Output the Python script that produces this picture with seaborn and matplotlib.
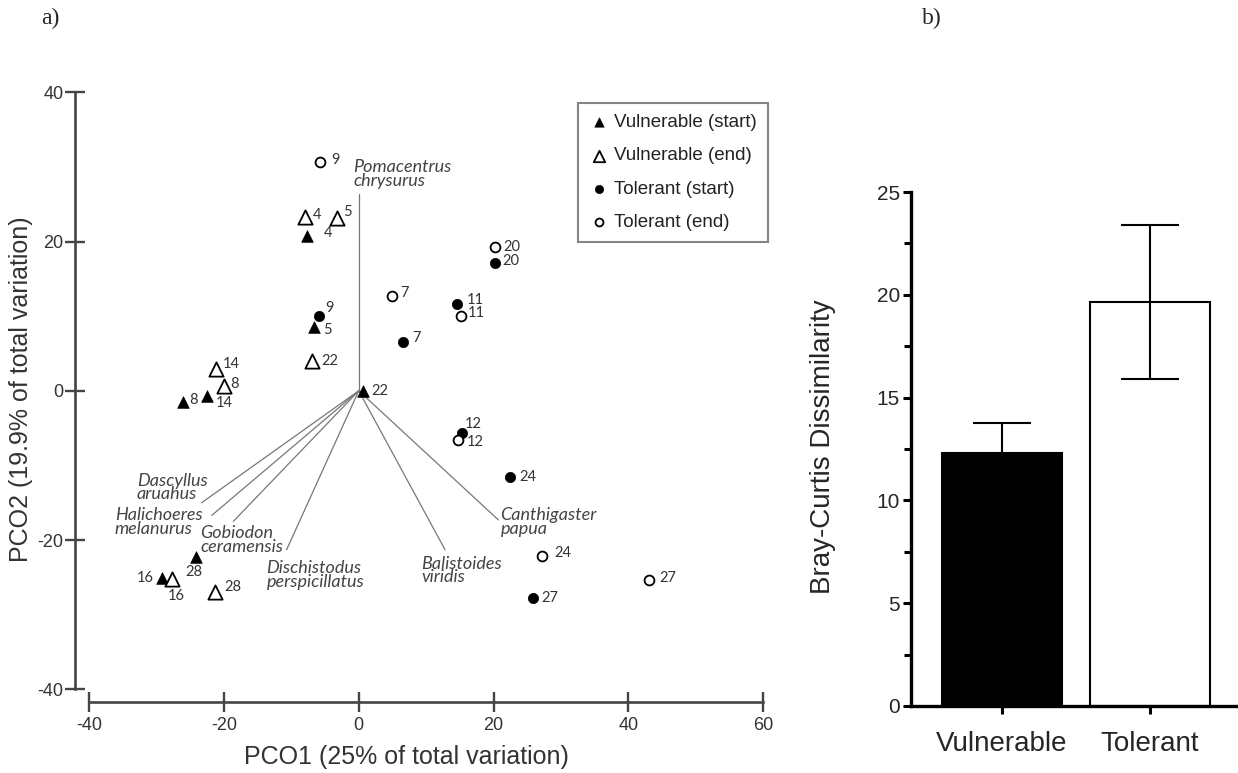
import numpy as np
import pandas as pd
import matplotlib
matplotlib.use("Agg")
import matplotlib.pyplot as plt
from matplotlib.ticker import AutoMinorLocator
import seaborn as sns

# -----------------------------
# a) PCO scores per site (start / end)
# -----------------------------
vul_ids = [4, 5, 8, 14, 22, 28, 16]
vul_start_x = [-7.6, -6.6, -26.0, -22.5, 0.6, -24.2, -29.2]
vul_start_y = [20.8, 8.6, -1.5, -0.7, 0.0, -22.3, -25.1]
vul_end_x = [-8.0, -3.2, -20.0, -21.1, -7.0, -21.3, -27.7]
vul_end_y = [23.3, 23.2, 0.7, 2.9, 4.0, -27.0, -25.2]

tol_ids = [9, 7, 20, 11, 12, 24, 27]
tol_start_x = [-5.9, 6.6, 20.2, 14.6, 15.3, 22.5, 25.9]
tol_start_y = [10.0, 6.6, 17.1, 11.6, -5.7, -11.6, -27.8]
tol_end_x = [-5.7, 4.9, 20.2, 15.2, 14.7, 27.2, 43.1]
tol_end_y = [30.7, 12.7, 19.3, 10.0, -6.6, -22.1, -25.4]

# species vectors
species = ["Pomacentrus\nchrysurus", "Dascyllus\naruahus", "Halichoeres\nmelanurus",
           "Gobiodon\nceramensis", "Dischistodus\nperspicillatus", "Balistoides\nviridis",
           "Canthigaster\npapua"]
vec_x = [0.0, -23.3, -21.8, -18.6, -10.7, 12.8, 20.7]
vec_y = [26.4, -15.0, -16.7, -17.5, -21.3, -21.3, -17.3]

# -----------------------------
# b) Bray-Curtis dissimilarity
# -----------------------------
groups = ["Vulnerable", "Tolerant"]
bc_mean = [12.3, 19.65]
bc_sem = [1.45, 3.75]

# layout bits: number label offsets (pixels) and species label anchors (left/top)
lab_off = {
    "Vulnerable (start)": [(21, 3), (13, -3), (10, 2), (17, -7), (17, 0), (-2, -15), (-17, 0)],
    "Vulnerable (end)": [(12, 2), (10, 6), (11, 2), (15, 5), (18, 0), (18, 5), (4, -17)],
    "Tolerant (start)": [(10, 8), (13, 4), (16, 2), (18, 4), (11, 9), (17, 0), (16, 0)],
    "Tolerant (end)": [(15, 2), (13, 3), (17, 0), (15, 3), (17, -2), (21, 3), (18, 2)],
}
spec_anchor = [(-0.8, 31.0), (-32.9, -11.0), (-36.2, -15.6), (-23.5, -18.0),
               (-13.7, -22.7), (9.3, -22.1), (21.0, -15.6)]

styles = {
    "Vulnerable (start)": dict(marker="^", s=70, color="black", edgecolor="black", linewidth=0.5),
    "Vulnerable (end)": dict(marker="^", s=105, facecolor="white", edgecolor="black", linewidth=1.3),
    "Tolerant (start)": dict(marker="o", s=55, color="black", edgecolor="black", linewidth=0.5),
    "Tolerant (end)": dict(marker="o", s=50, facecolor="white", edgecolor="black", linewidth=1.3),
}

rows = []
for name, ids, xs, ys in [("Vulnerable (start)", vul_ids, vul_start_x, vul_start_y),
                          ("Vulnerable (end)", vul_ids, vul_end_x, vul_end_y),
                          ("Tolerant (start)", tol_ids, tol_start_x, tol_start_y),
                          ("Tolerant (end)", tol_ids, tol_end_x, tol_end_y)]:
    for i, x, y in zip(ids, xs, ys):
        rows.append((name, i, x, y))
pco = pd.DataFrame(rows, columns=["group", "sample", "PCO1", "PCO2"])

sns.set_theme(style="ticks")
plt.rcParams["font.family"] = ["Liberation Sans", "DejaVu Sans"]
plt.rcParams["axes.unicode_minus"] = False

fig = plt.figure(figsize=(12.38, 7.73), dpi=100)
fig.patch.set_facecolor("white")
ax = fig.add_axes([0.0719, 0.1083, 0.5447, 0.7723])
axb = fig.add_axes([0.7359, 0.0867, 0.2641, 0.6649])

grey = "#444444"

# vectors
for name, vx, vy, (tx, ty) in zip(species, vec_x, vec_y, spec_anchor):
    ax.plot([0, vx], [0, vy], color="#777777", lw=0.9, zorder=1)
    ax.text(tx, ty, name, ha="left", va="top", fontsize=13, style="italic",
            family=["Lato", "DejaVu Sans"], color="#444444", linespacing=0.8)

# points
for name, st in styles.items():
    sub = pco[pco["group"] == name]
    sns.scatterplot(data=sub, x="PCO1", y="PCO2", ax=ax, label=name, zorder=3, **st)
    for (_, r), (dx, dy) in zip(sub.iterrows(), lab_off[name]):
        ax.annotate(str(r["sample"]), (r["PCO1"], r["PCO2"]), xytext=(dx, dy),
                    textcoords="offset pixels", ha="center", va="center",
                    fontsize=10.5, family=["Lato", "DejaVu Sans"], color="#333333")

ax.set_xlim(-40, 60)
ax.set_ylim(-40, 40)
ax.set_xticks([-40, -20, 0, 20, 40, 60])
ax.set_yticks([-40, -20, 0, 20, 40])
sns.despine(ax=ax, offset={"left": 10, "bottom": 9})
for s in ("left", "bottom"):
    ax.spines[s].set_linewidth(1.9)
    ax.spines[s].set_color(grey)
ax.tick_params(direction="inout", length=14, width=1.7, color=grey,
               labelsize=13, labelcolor="#333333")
ax.tick_params(axis="y", pad=1.5)
ax.tick_params(axis="x", pad=3.8)
ax.set_xlabel("PCO1 (25% of total variation)", fontsize=18, color="#333333")
ax.set_ylabel("PCO2 (19.9% of total variation)", fontsize=18, color="#333333")
ax.xaxis.label.set_va("center")
ax.yaxis.label.set_va("center")
ax.xaxis.set_label_coords(0.47, -0.113)
ax.yaxis.set_label_coords(-0.101, 0.502)

leg = ax.legend(loc="upper right", bbox_to_anchor=(1.007, 0.982), borderaxespad=0,
                fontsize=13.5, frameon=True, fancybox=False, markerscale=0.8,
                handletextpad=0.3, handlelength=1.0, labelspacing=0.85, borderpad=0.6)
leg.get_frame().set_edgecolor("#666666")
leg.get_frame().set_linewidth(1.5)
for t in leg.get_texts():
    t.set_color("#222222")

# -----------------------------
# b) bars
# -----------------------------
bc = pd.DataFrame({"group": groups, "mean": bc_mean, "sem": bc_sem})
sns.barplot(data=bc, x="group", y="mean", hue="group", palette=["black", "white"],
            saturation=1, edgecolor="black", linewidth=1.5, width=0.81,
            errorbar=None, legend=False, ax=axb)
axb.errorbar(x=np.arange(len(groups)), y=bc["mean"], yerr=bc["sem"], fmt="none",
             ecolor="black", elinewidth=1.5, capsize=21, capthick=1.5, zorder=3)
axb.set_xlim(-0.615, 1.595)
axb.set_ylim(0, 25)
axb.set_yticks([0, 5, 10, 15, 20, 25])
axb.yaxis.set_minor_locator(AutoMinorLocator(2))
sns.despine(ax=axb)
for s in ("left", "bottom"):
    axb.spines[s].set_linewidth(2.4)
    axb.spines[s].set_color("black")
axb.tick_params(axis="y", which="major", direction="out", length=6, width=2.2,
                labelsize=15, pad=2, color="black")
axb.tick_params(axis="y", which="minor", direction="out", length=5, width=2.2, color="black")
axb.tick_params(axis="x", direction="out", length=6, width=2.2, labelsize=20, pad=12,
                color="black")
axb.set_xlabel("")
axb.set_ylabel("Bray-Curtis Dissimilarity", fontsize=20)
axb.yaxis.label.set_va("center")
axb.yaxis.set_label_coords(-0.269, 0.505)

fig.text(0.0404, 0.9767, "a)", ha="center", va="center", fontsize=17,
         family=["Liberation Serif", "DejaVu Serif"])
fig.text(0.7528, 0.9767, "b)", ha="center", va="center", fontsize=17,
         family=["Liberation Serif", "DejaVu Serif"])

fig.savefig("out.png", dpi=100, facecolor="white")
